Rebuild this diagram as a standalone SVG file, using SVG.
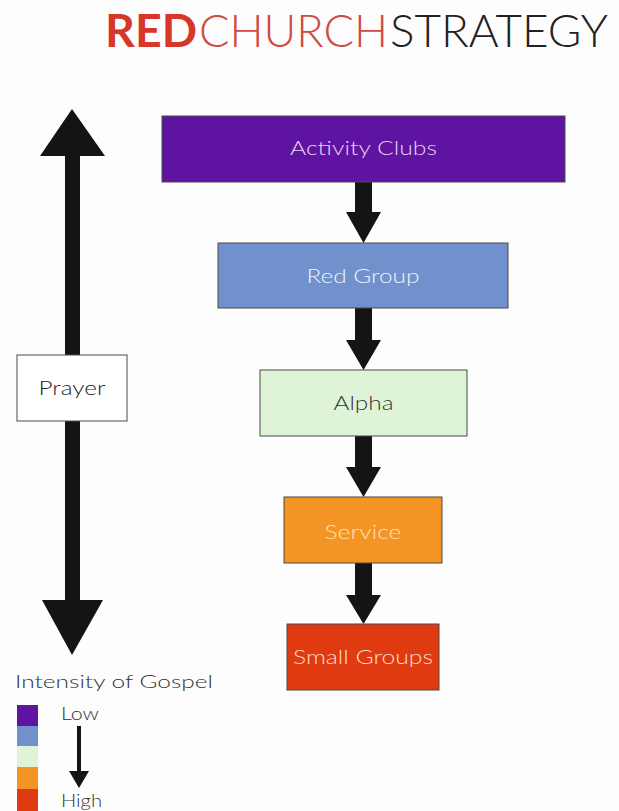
<svg xmlns="http://www.w3.org/2000/svg" width="619" height="811" viewBox="0 0 619 811">
<style>
  .t { font-family: "Lato", "Liberation Sans", sans-serif; }
  .box { stroke: #4a4a4a; stroke-width: 1; }
  .lbl { font-size: 20px; text-anchor: middle; font-weight: 300; }
  .arrow { fill: #141414; }
  .leg { font-size: 18px; fill: #333; font-weight: 300; }
</style>
<rect x="0" y="0" width="619" height="811" fill="#fdfdfd"/>
<g id="title" class="t">
  <text x="105" y="47" font-size="46" font-weight="700" fill="#d6372a" textLength="92" lengthAdjust="spacingAndGlyphs">RED</text>
  <text x="199" y="47" font-size="46" font-weight="300" fill="#cf4a44" textLength="189" lengthAdjust="spacingAndGlyphs">CHURCH</text>
  <text x="390" y="47" font-size="46" font-weight="300" fill="#222" textLength="218" lengthAdjust="spacingAndGlyphs">STRATEGY</text>
</g>
<g id="connectors">
  <polygon class="arrow" points="65,156 40,156 72,109 105,156 80,156 80,600 103,600 72,655 42,600 65,600"/>
  <polygon class="arrow" points="355,182 372,182 372,212 381,212 363.5,243 346,212 355,212"/>
  <polygon class="arrow" points="355,308 372,308 372,340 381,340 363.5,370 346,340 355,340"/>
  <polygon class="arrow" points="355,436 372,436 372,467 381,467 363.5,497 346,467 355,467"/>
  <polygon class="arrow" points="355,563 372,563 372,595 381,595 363.5,624 346,595 355,595"/>
</g>
<g id="prayer" class="t">
  <rect class="box" x="17" y="355" width="110" height="66" fill="#ffffff"/>
  <text class="lbl" x="72" y="395" fill="#222" textLength="67" lengthAdjust="spacingAndGlyphs">Prayer</text>
</g>
<g id="activity-clubs" class="t">
  <rect class="box" x="162" y="116" width="403" height="66" fill="#5f14a1"/>
  <text class="lbl" x="363.5" y="155" fill="#ead0f2" textLength="147" lengthAdjust="spacingAndGlyphs">Activity Clubs</text>
</g>
<g id="red-group" class="t">
  <rect class="box" x="218" y="243" width="290" height="65" fill="#7191cd"/>
  <text class="lbl" x="363" y="283" fill="#eef2fa" textLength="113" lengthAdjust="spacingAndGlyphs">Red Group</text>
</g>
<g id="alpha" class="t">
  <rect class="box" x="260" y="370" width="207" height="66" fill="#dff3d7"/>
  <text class="lbl" x="363.5" y="410" fill="#333" textLength="60" lengthAdjust="spacingAndGlyphs">Alpha</text>
</g>
<g id="service" class="t">
  <rect class="box" x="284" y="497" width="158" height="66" fill="#f39424"/>
  <text class="lbl" x="363" y="539" fill="#fde3b6" textLength="77" lengthAdjust="spacingAndGlyphs">Service</text>
</g>
<g id="small-groups" class="t">
  <rect class="box" x="287" y="624" width="152" height="66" fill="#e03b10"/>
  <text class="lbl" x="363" y="664" fill="#fcdccc" textLength="140" lengthAdjust="spacingAndGlyphs">Small Groups</text>
</g>
<g id="legend" class="t">
  <text class="leg" x="15" y="688" font-size="19" textLength="198" lengthAdjust="spacingAndGlyphs">Intensity of Gospel</text>
  <rect x="17" y="705" width="21" height="21" fill="#5f14a1"/>
  <rect x="17" y="726" width="21" height="20" fill="#7191cd"/>
  <rect x="17" y="746" width="21" height="21" fill="#dff3d7"/>
  <rect x="17" y="767" width="21" height="22" fill="#f39424"/>
  <rect x="17" y="789" width="21" height="22" fill="#e03b10"/>
  <text class="leg" x="61" y="720" font-size="17" textLength="38" lengthAdjust="spacingAndGlyphs">Low</text>
  <polygon class="arrow" points="77,726 81,726 81,771 89,771 79,788 69,771 77,771"/>
  <text class="leg" x="61" y="807" font-size="17" textLength="41" lengthAdjust="spacingAndGlyphs">High</text>
</g>
</svg>
